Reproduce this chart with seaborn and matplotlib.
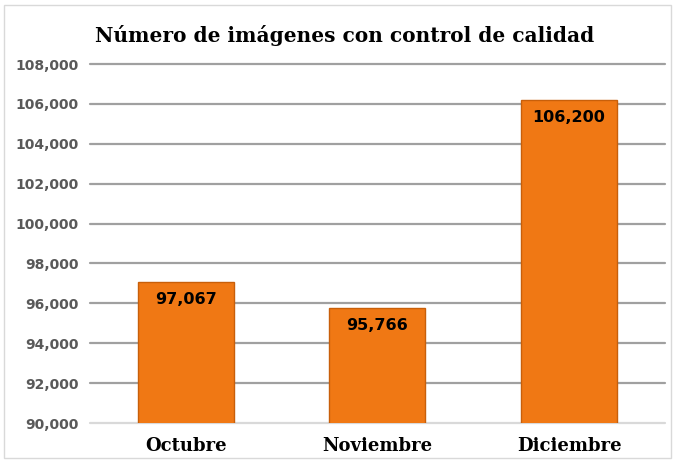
import matplotlib
matplotlib.use("Agg")
import matplotlib.pyplot as plt
import seaborn as sns
import pandas as pd
from matplotlib.patches import Rectangle

months = ["Octubre", "Noviembre", "Diciembre"]
values = [97067, 95766, 106200]
labels = ["97,067", "95,766", "106,200"]
yticks = [90000, 92000, 94000, 96000, 98000, 100000, 102000, 104000, 106000, 108000]

df = pd.DataFrame({"mes": months, "valor": values})

sns.set_theme(style="white")
fig = plt.figure(figsize=(6.75, 4.62), dpi=100)
ax = fig.add_axes([0.133, 0.0844, 0.852, 0.777])

fig.patches.append(Rectangle((0.006, 0.008), 0.988, 0.982, transform=fig.transFigure,
                             fill=False, edgecolor="#D9D9D9", linewidth=1.0))

for y in yticks:
    ax.axhline(y, color="#A0A0A0" if y > 90000 else "#D9D9D9", linewidth=1.6,
               zorder=0, clip_on=False)

sns.barplot(data=df, x="mes", y="valor", ax=ax, color="#F07814", width=0.5,
            edgecolor="#C85F0A", linewidth=1.0, saturation=1, zorder=3)

ax.set_ylim(90000, 108000)
ax.set_yticks(yticks)
ax.set_yticklabels([f"{v:,}" for v in yticks], fontsize=10, fontweight="bold",
                   color="#595959", family="DejaVu Sans")
ax.set_xticks(range(len(months)))
ax.set_xticklabels(months, fontsize=13, fontweight="bold", family="DejaVu Serif", color="black")
ax.tick_params(axis="x", length=0, pad=10)
ax.tick_params(axis="y", length=0, pad=8)
ax.set_xlabel("")
ax.set_ylabel("")
for s in ax.spines.values():
    s.set_visible(False)

for i, (v, lab) in enumerate(zip(values, labels)):
    ax.annotate(lab, (i, v), xytext=(0, -7), textcoords="offset points",
                ha="center", va="top", fontsize=11.5, fontweight="bold",
                color="black", family="DejaVu Sans", zorder=5)

fig.text(0.51, 0.923, "Número de imágenes con control de calidad", ha="center", va="center",
         fontsize=14.5, fontweight="bold", family="DejaVu Serif", color="black")

fig.savefig("out.png", dpi=100)
